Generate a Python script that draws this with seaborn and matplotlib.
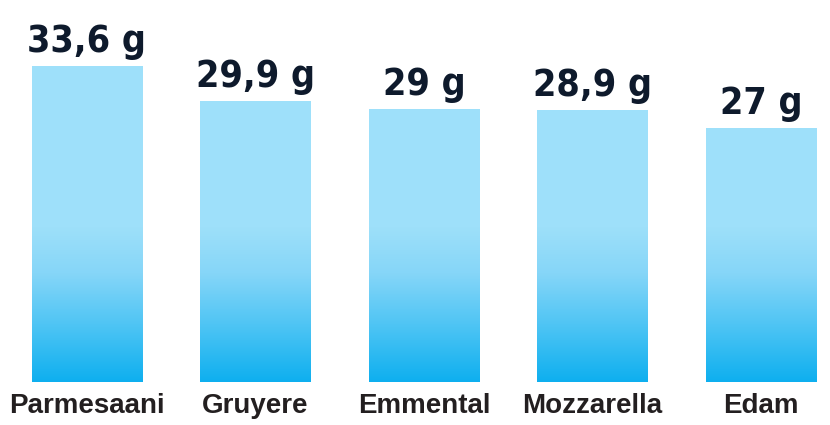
import numpy as np
import pandas as pd
import matplotlib
matplotlib.use("Agg")
import matplotlib.pyplot as plt
from matplotlib.colors import LinearSegmentedColormap
import seaborn as sns

categories = ["Parmesaani", "Gruyere", "Emmental", "Mozzarella", "Edam"]
values = [33.6, 29.9, 29.0, 28.9, 27.0]
labels = ["33,6 g", "29,9 g", "29 g", "28,9 g", "27 g"]

df = pd.DataFrame({"cheese": categories, "protein": values})

sns.set_theme(style="white")
plt.rcParams["font.family"] = ["Liberation Sans", "DejaVu Sans"]

fig = plt.figure(figsize=(8.3, 4.25), dpi=100)
ax = fig.add_axes([0, 0.1012, 1, 0.8988])

sns.barplot(data=df, x="cheese", y="protein", hue="cheese", palette=["#9EE0FA"] * 5,
            width=0.653, legend=False, ax=ax, saturation=1)

ax.set_xlim(-0.516, 4.41)
ax.set_ylim(0, 40.64)

cmap = LinearSegmentedColormap.from_list(
    "blue", [(0.0, "#0EAFEF"), (0.35, "#4CC4F4"), (0.7, "#86D6F8"), (1.0, "#9EE0FA")])
grad = np.linspace(0, 1, 256).reshape(-1, 1)

for p in ax.patches:
    x0 = p.get_x()
    w = p.get_width()
    h = p.get_height()
    p.set_facecolor("none")
    p.set_edgecolor("none")
    im = ax.imshow(grad, extent=[x0, x0 + w, 0, 16.5], origin="lower",
                   aspect="auto", cmap=cmap, zorder=2)
    im.set_clip_path(p)
    top = ax.imshow(np.ones((2, 1)), extent=[x0, x0 + w, 16.5, h], origin="lower",
                    aspect="auto", cmap=cmap, vmin=0, vmax=1, zorder=2)
    top.set_clip_path(p)

for i, (v, t) in enumerate(zip(values, labels)):
    ax.text(i, v + 1.5, t, ha="center", va="baseline", fontsize=27,
            fontweight="bold", fontstretch="condensed", color="#0E1A2C",
            family="DejaVu Sans")

ax.set_xlabel("")
ax.set_ylabel("")
ax.set_yticks([])
ax.tick_params(axis="x", length=0, pad=8)
for lab in ax.get_xticklabels():
    lab.set_fontsize(20)
    lab.set_fontweight("bold")
    lab.set_color("#231F20")
for s in ax.spines.values():
    s.set_visible(False)

fig.savefig("out.png", dpi=100, facecolor="white")
